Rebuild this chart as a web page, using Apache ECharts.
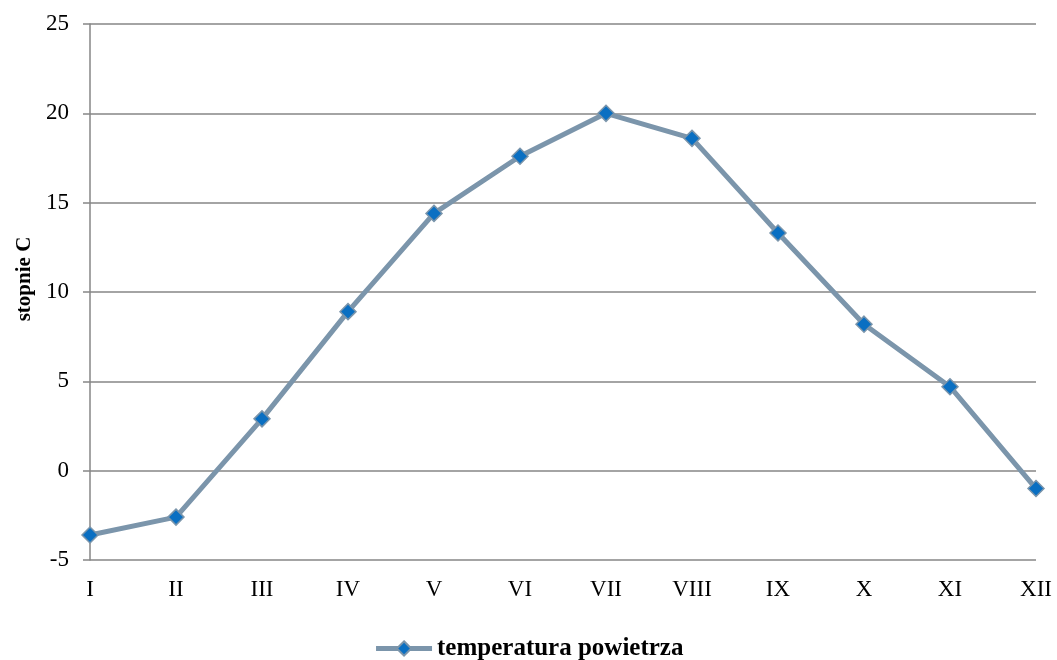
<!DOCTYPE html>
<html>
<head>
<meta charset="utf-8">
<script src="https://cdn.jsdelivr.net/npm/echarts@6/dist/echarts.min.js"></script>
<style>html,body{margin:0;padding:0;background:#fff;}#c{width:1057px;height:660px;}</style>
</head>
<body>
<div id="c"></div>
<script>
const months = ['I','II','III','IV','V','VI','VII','VIII','IX','X','XI','XII'];
const temperature = [-3.6, -2.6, 2.9, 8.9, 14.4, 17.6, 20.0, 18.6, 13.3, 8.2, 4.7, -1.0];
const seriesName = 'temperatura powietrza';
const yAxisName = 'stopnie C';

const chart = echarts.init(document.getElementById('c'));
const serif = '"Liberation Serif", "DejaVu Serif", serif';
chart.setOption({
  animation: false,
  grid: { left: 90, right: 21, top: 24, bottom: 100, containLabel: false, outerBoundsMode: 'none' },
  legend: {
    top: 631,
    left: 'center',
    itemWidth: 56,
    itemHeight: 18,
    itemGap: 4,
    lineStyle: { width: 5, color: '#7b95ab' },
    textStyle: { fontFamily: serif, fontSize: 25, fontWeight: 'bold', color: '#000' },
    data: [seriesName]
  },
  xAxis: {
    type: 'category',
    data: months,
    boundaryGap: false,
    axisLine: { show: false },
    axisTick: { show: false },
    axisLabel: { fontFamily: serif, fontSize: 23, color: '#000', margin: 18 }
  },
  yAxis: {
    type: 'value',
    min: -5, max: 25, interval: 5,
    name: yAxisName,
    nameLocation: 'middle',
    nameGap: 51,
    nameRotate: 90,
    nameTextStyle: { fontFamily: serif, fontSize: 21, fontWeight: 'bold', color: '#000', padding: [0, 0, 0, 26] },
    axisLine: { show: true, lineStyle: { color: '#868686', width: 1.5 } },
    axisTick: { show: true, length: 7, lineStyle: { color: '#868686', width: 1.5 } },
    axisLabel: { fontFamily: serif, fontSize: 23, color: '#000', margin: 21 },
    splitLine: { show: true, lineStyle: { color: '#868686', width: 1.5 } }
  },
  series: [{
    name: seriesName,
    type: 'line',
    data: temperature,
    symbol: 'diamond',
    symbolSize: 16,
    lineStyle: { color: '#7b95ab', width: 5 },
    itemStyle: { color: '#0a6fc2', borderColor: '#7b95ab', borderWidth: 1.5 },
    z: 3
  }]
});
</script>
</body>
</html>
